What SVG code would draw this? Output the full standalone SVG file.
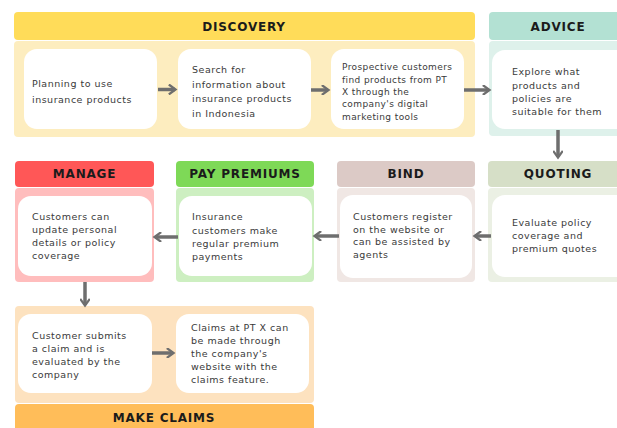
<svg xmlns="http://www.w3.org/2000/svg" width="617" height="428" viewBox="0 0 617 428">
  <defs>
    <style>
      .hd { font-family: "DejaVu Sans", "Liberation Sans", sans-serif; font-weight: bold; font-size: 12px; letter-spacing: 0.8px; fill: #1b1b1b; text-anchor: middle; }
      .tx { font-family: "DejaVu Sans", "Liberation Sans", sans-serif; font-size: 9.5px; letter-spacing: 0.5px; fill: #3a3a3a; }
      .sm { font-size: 9px; letter-spacing: 0.4px; }
      .card { fill: #ffffff; }
      .link { fill: none; stroke: #6e6e6e; stroke-width: 3.5; marker-end: url(#chev); }
    </style>
    <marker id="chev" viewBox="0 0 10 10" refX="7" refY="5" markerWidth="3" markerHeight="3" orient="auto" markerUnits="strokeWidth">
      <path d="M2,1 L7.5,5 L2,9" fill="none" stroke="#6e6e6e" stroke-width="2.2" stroke-linecap="square"/>
    </marker>
  </defs>

  <rect width="617" height="428" fill="#ffffff"/>

  <!-- Discovery stage -->
  <g id="discovery">
    <rect x="14" y="12" width="461" height="28" rx="4" fill="#ffdc59"/>
    <rect x="14" y="41" width="461" height="96" rx="4" fill="#fdedbf"/>
    <text class="hd" x="244" y="30.5">DISCOVERY</text>
    <g id="plan">
      <rect class="card" x="24" y="49" width="133" height="80" rx="13"/>
      <text class="tx" x="32" y="87">Planning to use</text>
      <text class="tx" x="32" y="103">insurance products</text>
    </g>
    <g id="search">
      <rect class="card" x="178" y="49" width="133" height="80" rx="13"/>
      <text class="tx" x="192" y="73">Search for</text>
      <text class="tx" x="192" y="87.5">information about</text>
      <text class="tx" x="192" y="102">insurance products</text>
      <text class="tx" x="192" y="116.5">in Indonesia</text>
    </g>
    <g id="find">
      <rect class="card" x="331" y="49" width="133" height="80" rx="13"/>
      <text class="tx sm" x="342" y="70">Prospective customers</text>
      <text class="tx sm" x="342" y="82.5">find products from PT</text>
      <text class="tx sm" x="342" y="95">X through the</text>
      <text class="tx sm" x="342" y="107">company's digital</text>
      <text class="tx sm" x="342" y="119.5">marketing tools</text>
    </g>
  </g>

  <!-- Advice stage -->
  <g id="advice">
    <rect x="489" y="12" width="140" height="28" rx="4" fill="#b3e1d3"/>
    <rect x="489" y="41" width="140" height="95" rx="4" fill="#def1eb"/>
    <text class="hd" x="558" y="30.5">ADVICE</text>
    <rect class="card" x="492" y="50" width="140" height="79" rx="13"/>
    <text class="tx" x="512" y="75">Explore what</text>
    <text class="tx" x="512" y="88.5">products and</text>
    <text class="tx" x="512" y="101.5">policies are</text>
    <text class="tx" x="512" y="114.5">suitable for them</text>
  </g>

  <!-- Quoting stage -->
  <g id="quoting">
    <rect x="488" y="161" width="140" height="26" rx="4" fill="#d6dfc7"/>
    <rect x="488" y="188" width="140" height="94" rx="4" fill="#ebf0e4"/>
    <text class="hd" x="558" y="178">QUOTING</text>
    <rect class="card" x="492" y="195" width="140" height="82" rx="13"/>
    <text class="tx" x="512" y="225.5">Evaluate policy</text>
    <text class="tx" x="512" y="238.5">coverage and</text>
    <text class="tx" x="512" y="251.5">premium quotes</text>
  </g>

  <!-- Bind stage -->
  <g id="bind">
    <rect x="337" y="161" width="138" height="26" rx="4" fill="#dccac6"/>
    <rect x="337" y="188" width="138" height="94" rx="4" fill="#f0e7e4"/>
    <text class="hd" x="406" y="178">BIND</text>
    <rect class="card" x="340" y="195" width="132" height="83" rx="13"/>
    <text class="tx" x="353" y="220">Customers register</text>
    <text class="tx" x="353" y="232.5">on the website or</text>
    <text class="tx" x="353" y="245">can be assisted by</text>
    <text class="tx" x="353" y="258">agents</text>
  </g>

  <!-- Pay premiums stage -->
  <g id="pay-premiums">
    <rect x="176" y="161" width="138" height="26" rx="4" fill="#7ed957"/>
    <rect x="176" y="188" width="138" height="94" rx="4" fill="#cdefc1"/>
    <text class="hd" x="245" y="178">PAY PREMIUMS</text>
    <rect class="card" x="179" y="196" width="133" height="80" rx="13"/>
    <text class="tx" x="192" y="220">Insurance</text>
    <text class="tx" x="192" y="233.5">customers make</text>
    <text class="tx" x="192" y="246.5">regular premium</text>
    <text class="tx" x="192" y="260">payments</text>
  </g>

  <!-- Manage stage -->
  <g id="manage">
    <rect x="15" y="161" width="139" height="26" rx="4" fill="#ff5757"/>
    <rect x="15" y="188" width="139" height="94" rx="4" fill="#ffbdbd"/>
    <text class="hd" x="84.5" y="178">MANAGE</text>
    <rect class="card" x="18" y="196" width="134" height="80" rx="13"/>
    <text class="tx" x="32" y="219.5">Customers can</text>
    <text class="tx" x="32" y="232.5">update personal</text>
    <text class="tx" x="32" y="245.5">details or policy</text>
    <text class="tx" x="32" y="258.5">coverage</text>
  </g>

  <!-- Make claims stage -->
  <g id="make-claims">
    <rect x="15" y="306" width="299" height="97" rx="4" fill="#fde2bf"/>
    <rect x="15" y="404" width="299" height="30" rx="4" fill="#ffbd59"/>
    <text class="hd" x="164" y="421.5">MAKE CLAIMS</text>
    <g id="submit">
      <rect class="card" x="18" y="314" width="134" height="79" rx="13"/>
      <text class="tx" x="32" y="338.5">Customer submits</text>
      <text class="tx" x="32" y="351.5">a claim and is</text>
      <text class="tx" x="32" y="365">evaluated by the</text>
      <text class="tx" x="32" y="378">company</text>
    </g>
    <g id="website-claims">
      <rect class="card" x="176" y="314" width="133" height="79" rx="13"/>
      <text class="tx" x="191" y="330.5">Claims at PT X can</text>
      <text class="tx" x="191" y="344">be made through</text>
      <text class="tx" x="191" y="356.5">the company's</text>
      <text class="tx" x="191" y="369.5">website with the</text>
      <text class="tx" x="191" y="382.5">claims feature.</text>
    </g>
  </g>

  <!-- Connectors -->
  <g id="connectors">
    <line class="link" x1="158" y1="89.5" x2="175" y2="89.5"/>
    <line class="link" x1="311" y1="90" x2="328" y2="90"/>
    <line class="link" x1="464" y1="90" x2="489" y2="90"/>
    <line class="link" x1="558" y1="130" x2="558" y2="157"/>
    <line class="link" x1="491" y1="236" x2="475" y2="236"/>
    <line class="link" x1="339" y1="236" x2="315" y2="236"/>
    <line class="link" x1="178" y1="237" x2="155" y2="237"/>
    <line class="link" x1="85" y1="282" x2="85" y2="305"/>
    <line class="link" x1="152" y1="353" x2="173" y2="353"/>
  </g>
</svg>
